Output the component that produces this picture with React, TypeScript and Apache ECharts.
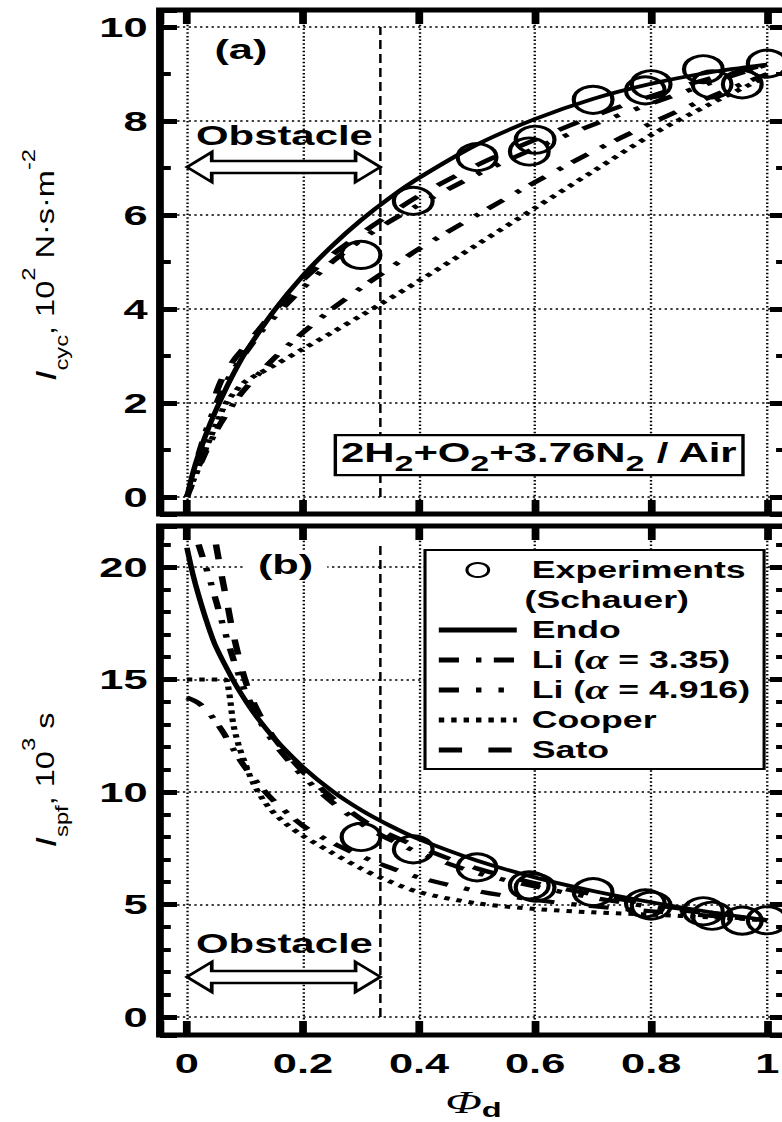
import React, { useEffect, useRef } from 'react';
import * as echarts from 'echarts';

// The figure is laid out narrow and widened horizontally (wide lettering, oval markers).
const STRETCH = 1.55;
const CHART_W = 782 / STRETCH;
const CHART_H = 1122;

const FONT = '"Liberation Sans", Arial, sans-serif';
const SERIF = '"Liberation Serif", "Times New Roman", serif';

// ---------------- data ----------------
// Experiments (Schauer)
const phiExp = [0.30, 0.39, 0.50, 0.59, 0.60, 0.70, 0.79, 0.80, 0.89, 0.905, 0.957, 1.0];
const icycExp = [5.15, 6.3, 7.23, 7.35, 7.6, 8.45, 8.65, 8.78, 9.1, 8.78, 8.78, 9.22];
const ispfExp = [8.0, 7.45, 6.65, 5.85, 5.75, 5.55, 5.05, 4.95, 4.7, 4.5, 4.28, 4.3];

// Endo
const phiEndoA = [0, 0.01, 0.02, 0.04, 0.06, 0.08, 0.1, 0.15, 0.2, 0.25, 0.3, 0.35, 0.4, 0.5, 0.6, 0.7, 0.8, 0.9, 1.0];
const icycEndo = [0, 0.5, 0.9, 1.56, 2.12, 2.62, 3.06, 3.96, 4.71, 5.34, 5.89, 6.37, 6.79, 7.5, 8.04, 8.47, 8.79, 9.03, 9.2];
const phiEndoB = [0, 0.01, 0.02, 0.035, 0.05, 0.08, 0.1, 0.12, 0.15, 0.2, 0.25, 0.3, 0.35, 0.4, 0.5, 0.6, 0.7, 0.8, 0.9, 1.0];
const ispfEndo = [20.85, 19.7, 18.75, 17.5, 16.45, 14.95, 14.1, 13.35, 12.4, 11.1, 10.05, 9.2, 8.5, 7.9, 6.95, 6.2, 5.6, 5.1, 4.67, 4.3];

// Li (alpha = 3.35)
const phiLi1A = [0, 0.02, 0.05, 0.08, 0.1, 0.15, 0.2, 0.25, 0.3, 0.333, 0.4, 0.5, 0.6, 0.7, 0.8, 0.9, 1.0];
const icycLi1 = [0, 0.62, 1.4, 1.98, 2.3, 2.95, 3.5, 4.0, 4.45, 4.73, 5.28, 6.0, 6.7, 7.35, 7.95, 8.5, 9.0];
const phiLi1B = [0, 0.02, 0.04, 0.06, 0.08, 0.1, 0.12, 0.15, 0.2, 0.25, 0.3, 0.333, 0.4, 0.5, 0.6, 0.7, 0.8, 0.9, 1.0];
const ispfLi1 = [14.2, 13.95, 13.45, 12.75, 11.9, 11.1, 10.45, 9.6, 8.5, 7.75, 7.15, 6.8, 6.2, 5.6, 5.2, 4.92, 4.7, 4.5, 4.3];

// Li (alpha = 4.916)
const phiLi2 = [0.02, 0.03, 0.04, 0.06, 0.08, 0.1, 0.13, 0.16, 0.2, 0.25, 0.3, 0.333, 0.4, 0.5, 0.6, 0.7, 0.8, 0.9, 1.0];
const icycLi2 = [0.9, 1.3, 1.65, 2.25, 2.7, 3.05, 3.55, 3.95, 4.45, 5.0, 5.47, 5.74, 6.22, 6.86, 7.42, 7.92, 8.37, 8.8, 9.2];
const ispfLi2 = [21.0, 20.2, 19.4, 17.6, 15.9, 14.5, 12.95, 11.85, 10.7, 9.55, 8.6, 8.1, 7.3, 6.4, 5.8, 5.3, 4.9, 4.6, 4.3];

// Cooper
const phiCooperA = [0, 0.03, 0.065, 0.08, 0.1, 0.15, 0.2, 0.25, 0.3, 0.333, 0.4, 0.5, 0.6, 0.7, 0.8, 0.9, 1.0];
const icycCooper = [0, 0.95, 1.95, 2.2, 2.45, 2.8, 3.15, 3.5, 3.86, 4.1, 4.6, 5.37, 6.15, 6.93, 7.7, 8.35, 8.95];
const phiCooperB = [0, 0.065, 0.07, 0.075, 0.08, 0.09, 0.1, 0.115, 0.14, 0.17, 0.2, 0.25, 0.3, 0.333, 0.4, 0.5, 0.6, 0.7, 0.8, 0.9, 1.0];
const ispfCooper = [15.0, 15.0, 14.8, 14.0, 13.0, 12.0, 11.3, 10.35, 9.35, 8.6, 8.05, 7.3, 6.6, 6.2, 5.55, 5.05, 4.8, 4.65, 4.55, 4.43, 4.3];

// Sato
const phiSatoA = [0.05, 0.06, 0.08, 0.1, 0.12, 0.15, 0.2, 0.25, 0.3, 0.333, 0.4, 0.5, 0.6, 0.7, 0.8, 0.9, 1.0];
const icycSato = [2.2, 2.5, 2.9, 3.2, 3.5, 3.95, 4.62, 5.15, 5.6, 5.88, 6.41, 7.06, 7.6, 8.1, 8.53, 8.9, 9.2];
const phiSatoB = [0.05, 0.06, 0.07, 0.08, 0.1, 0.12, 0.15, 0.2, 0.25, 0.3, 0.333, 0.4, 0.5, 0.6, 0.7, 0.8, 0.9, 1.0];
const ispfSato = [21.0, 19.6, 18.3, 17.0, 15.0, 13.7, 12.4, 10.9, 9.75, 8.8, 8.3, 7.55, 6.6, 5.95, 5.45, 5.0, 4.65, 4.3];

// Obstacle region boundary (fraction filled by the obstacle)
const obstacleEdge = 1 / 3;

// Legend entries
const NAME_EXP = 'Experiments';
const NAME_SCHAUER = '(Schauer)';
const NAME_ENDO = 'Endo';
const NAME_LI1 = 'Li (α = 3.35)';
const NAME_LI2 = 'Li (α = 4.916)';
const NAME_COOPER = 'Cooper';
const NAME_SATO = 'Sato';

// Axis ranges
const X_RANGE = [-0.0465, 1.034];
const YA_RANGE = [-0.36, 10.36];
const YB_RANGE = [-0.8, 21.82];

// ---------------- styling ----------------
const lineStyles: Record<string, any> = {
  [NAME_ENDO]: { type: 'solid', width: 3.6 },
  [NAME_LI1]: { type: [13, 11, 3.5, 8], width: 4.2 },
  [NAME_LI2]: { type: [13, 11, 3.5, 11, 3.5, 11], width: 4.2 },
  [NAME_COOPER]: { type: [3.5, 4.5], width: 4 },
  [NAME_SATO]: { type: [15, 17], width: 4.2 },
};

const pairs = (xs: number[], ys: number[]) => xs.map((x, i) => [x, ys[i]]);

function tickLabel(step: number, lo: number, hi: number) {
  return (v: number) => {
    const k = Math.round(v / step);
    const r = k * step;
    if (Math.abs(v - r) > step * 1e-4 || r < lo - 1e-9 || r > hi + 1e-9) return '';
    return String(parseFloat(r.toFixed(4)));
  };
}

const gridLine = { color: '#000', width: 1.5, type: [1.5, 2.2] };

function xAxis(gridIndex: number, position: 'top' | 'bottom', labels: boolean, extra: any = {}) {
  return {
    type: 'value',
    gridIndex,
    position,
    min: X_RANGE[0],
    max: X_RANGE[1],
    axisLine: { show: false, onZero: false },
    axisTick: { show: true, inside: true, length: 14, lineStyle: { color: '#000', width: 5 } },
    axisLabel: labels
      ? { show: true, formatter: tickLabel(0.2, 0, 1), color: '#000', fontFamily: FONT, fontWeight: 'bold', fontSize: 28, margin: 14 }
      : { show: false },
    splitLine: { show: position === 'bottom', lineStyle: gridLine },
    ...extra,
  };
}

function yAxis(gridIndex: number, position: 'left' | 'right', range: number[], step: number, minorSplit: number) {
  const labels = position === 'left';
  return {
    type: 'value',
    gridIndex,
    position,
    min: range[0],
    max: range[1],
    axisLine: { show: false, onZero: false },
    axisTick: { show: true, inside: true, length: 11, lineStyle: { color: '#000', width: 5 } },
    minorTick: { show: true, splitNumber: minorSplit, length: 7, lineStyle: { color: '#000', width: 4 } },
    axisLabel: labels
      ? { show: true, formatter: tickLabel(step, 0, 20), color: '#000', fontFamily: FONT, fontWeight: 'bold', fontSize: 28, margin: 8 }
      : { show: false },
    splitLine: { show: labels, lineStyle: gridLine },
  };
}

function curve(name: string, xs: number[], ys: number[], axis: number) {
  return {
    name,
    type: 'line',
    xAxisIndex: axis,
    yAxisIndex: axis,
    data: pairs(xs, ys),
    symbol: 'none',
    showSymbol: false,
    smooth: 0.3,
    lineStyle: { color: '#000', cap: 'butt', join: 'round', ...lineStyles[name] },
    itemStyle: { color: '#000' },
    z: 3,
  };
}

function experiments(ys: number[], axis: number) {
  return {
    name: NAME_EXP,
    type: 'scatter',
    xAxisIndex: axis,
    yAxisIndex: axis,
    data: pairs(phiExp, ys),
    symbol: 'circle',
    symbolSize: [25, 27],
    itemStyle: { color: 'rgba(0,0,0,0)', borderColor: '#000', borderWidth: 2.8, opacity: 1 },
    z: 4,
  };
}

function boundary(top: number, axis: number) {
  return {
    name: 'obstacle edge',
    type: 'line',
    xAxisIndex: axis,
    yAxisIndex: axis,
    data: [[obstacleEdge, 0], [obstacleEdge, top]],
    symbol: 'none',
    lineStyle: { color: '#000', width: 1.6, type: [9, 5] },
    z: 2,
  };
}

function buildOption() {
  const gridBase = { show: true, borderColor: '#000', borderWidth: 5, backgroundColor: 'transparent', left: 103.2, width: 404.5, containLabel: false, outerBoundsMode: 'none' };
  const noMarker = { opacity: 0 };
  return {
    animation: false,
    backgroundColor: '#fff',
    grid: [
      { ...gridBase, top: 10, height: 504 },
      { ...gridBase, top: 526, height: 509 },
    ],
    xAxis: [
      xAxis(0, 'bottom', false),
      xAxis(0, 'top', false),
      xAxis(1, 'bottom', true, {
        name: '{f|Φ}{d|d}',
        nameLocation: 'middle',
        nameGap: 52,
        nameMoveOverlap: false,
        nameTextStyle: {
          color: '#000',
          rich: {
            f: { fontFamily: SERIF, fontStyle: 'italic', fontSize: 31, lineHeight: 26, verticalAlign: 'top', color: '#000' },
            d: { fontFamily: FONT, fontWeight: 'bold', fontSize: 21, lineHeight: 33, verticalAlign: 'bottom', color: '#000' },
          },
        },
      }),
      xAxis(1, 'top', false),
    ],
    yAxis: [
      yAxis(0, 'left', YA_RANGE, 2, 2),
      yAxis(0, 'right', YA_RANGE, 2, 2),
      yAxis(1, 'left', YB_RANGE, 5, 5),
      yAxis(1, 'right', YB_RANGE, 5, 5),
    ],
    legend: {
      orient: 'vertical',
      left: 274.2,
      top: 550,
      padding: [5, 9, 4, 6.4],
      itemWidth: 50.3,
      itemHeight: 14,
      itemGap: 0,
      backgroundColor: '#fff',
      borderColor: '#000',
      borderWidth: 2,
      selectedMode: false,
      lineStyle: { width: 5 },
      data: [
        { name: NAME_EXP },
        { name: NAME_SCHAUER, itemStyle: noMarker },
        { name: NAME_ENDO, itemStyle: noMarker },
        { name: NAME_LI1, itemStyle: noMarker },
        { name: NAME_LI2, itemStyle: noMarker },
        { name: NAME_COOPER, itemStyle: noMarker },
        { name: NAME_SATO, itemStyle: noMarker },
      ],
      formatter: (name: string) => {
        if (name === NAME_SCHAUER) return `{q|${name}}`;
        const m = name.match(/^Li \(α = (.+)\)$/);
        if (m) return `{p|Li (}{a|α}{r| = ${m[1]})}`;
        return `{p|${name}}`;
      },
      textStyle: {
        color: '#000',
        fontFamily: FONT,
        fontWeight: 'bold',
        fontSize: 23,
        lineHeight: 30,
        rich: {
          p: { fontFamily: FONT, fontWeight: 'bold', fontSize: 23, lineHeight: 30, padding: [0, 0, 0, 4.7], color: '#000' },
          r: { fontFamily: FONT, fontWeight: 'bold', fontSize: 23, lineHeight: 30, color: '#000' },
          q: { fontFamily: FONT, fontWeight: 'bold', fontSize: 23, lineHeight: 30, color: '#000' },
          a: { fontFamily: SERIF, fontStyle: 'italic', fontWeight: 'bold', fontSize: 27, lineHeight: 30, color: '#000' },
        },
      },
      z: 20,
    },
    series: [
      // panel (a): cycle impulse per unit area
      boundary(10, 0),
      curve(NAME_COOPER, phiCooperA, icycCooper, 0),
      curve(NAME_LI1, phiLi1A, icycLi1, 0),
      curve(NAME_LI2, phiLi2, icycLi2, 0),
      curve(NAME_SATO, phiSatoA, icycSato, 0),
      curve(NAME_ENDO, phiEndoA, icycEndo, 0),
      experiments(icycExp, 0),
      // panel (b): specific impulse
      boundary(21, 2),
      curve(NAME_COOPER, phiCooperB, ispfCooper, 2),
      curve(NAME_LI1, phiLi1B, ispfLi1, 2),
      curve(NAME_LI2, phiLi2, ispfLi2, 2),
      curve(NAME_SATO, phiSatoB, ispfSato, 2),
      curve(NAME_ENDO, phiEndoB, ispfEndo, 2),
      experiments(ispfExp, 2),
      {
        name: NAME_SCHAUER,
        type: 'line',
        xAxisIndex: 2,
        yAxisIndex: 2,
        data: [],
        symbol: 'none',
        lineStyle: { color: '#fff', width: 0 },
        itemStyle: { color: '#fff' },
      },
    ],
  };
}

function buildGraphics(chart: any) {
  const px = (panel: number, x: number, y: number): number[] =>
    chart.convertToPixel({ xAxisIndex: panel * 2, yAxisIndex: panel * 2 }, [x, y]);

  const bold = (size: number) => ({ fontFamily: FONT, fontWeight: 'bold', fontSize: size, fill: '#000' });

  const arrow = (panel: number, y: number) => {
    const [x0, yc] = px(panel, 0, y);
    const [x1] = px(panel, obstacleEdge, y);
    const head = 16;
    const hh = 15;
    const sh = 6;
    return {
      type: 'polygon',
      z: 30,
      shape: {
        points: [
          [x0, yc], [x0 + head, yc - hh], [x0 + head, yc - sh], [x1 - head, yc - sh], [x1 - head, yc - hh],
          [x1, yc], [x1 - head, yc + hh], [x1 - head, yc + sh], [x0 + head, yc + sh], [x0 + head, yc + hh],
        ],
      },
      style: { fill: '#fff', stroke: '#000', lineWidth: 2.4, lineJoin: 'miter' },
    };
  };

  const label = (panel: number, x: number, y: number, text: string, size: number, extra: any = {}) => {
    const [cx, cy] = px(panel, x, y);
    return {
      type: 'text',
      x: cx,
      y: cy,
      z: 31,
      style: { text, align: 'center', verticalAlign: 'middle', ...bold(size), ...extra },
    };
  };

  // rotated axis titles with sub/superscripts
  const titleRich = {
    i: { fontFamily: FONT, fontStyle: 'italic', fontSize: 30, lineHeight: 52, fill: '#000' },
    n: { fontFamily: FONT, fontSize: 26, lineHeight: 52, fill: '#000' },
    sb: { fontFamily: FONT, fontSize: 19, lineHeight: 26, verticalAlign: 'bottom', fill: '#000' },
    sp: { fontFamily: FONT, fontSize: 19, lineHeight: 16, verticalAlign: 'top', fill: '#000' },
  };
  const title = (x: number, y: number, text: string) => ({
    type: 'text',
    x,
    y,
    rotation: Math.PI / 2,
    scaleX: 1.25,
    scaleY: 1 / STRETCH,
    z: 31,
    style: { text, rich: titleRich, align: 'center', verticalAlign: 'middle', fill: '#000' },
  });

  const [fx, fy] = px(0, 0.607, 0.894);
  const boxW = 263;
  const boxH = 40;

  return [
    title(29, 265, '{i|I}{sb|cyc}{n|, 10}{sp|2}{n| N·s·m}{sp|-2}'),
    title(29, 780, '{i|I}{sb|spf}{n|, 10}{sp|3}{n| s}'),
    label(0, 0.093, 9.53, '(a)', 28),
    label(1, 0.17, 20.1, '(b)', 28, { backgroundColor: '#fff', padding: [0, 9] }),
    label(0, 0.168, 7.7, 'Obstacle', 27),
    arrow(0, 7.02),
    label(1, 0.168, 3.29, 'Obstacle', 27),
    arrow(1, 1.78),
    {
      type: 'rect',
      z: 30,
      shape: { x: fx - boxW / 2, y: fy - boxH / 2, width: boxW, height: boxH },
      style: { fill: '#fff', stroke: '#000', lineWidth: 2.2 },
    },
    {
      type: 'text',
      x: fx,
      y: fy + 1.25,
      z: 31,
      style: {
        text: '{m|2H}{s|2}{m|+O}{s|2}{m|+3.76N}{s|2}{m| / Air}',
        align: 'center',
        verticalAlign: 'middle',
        fill: '#000',
        rich: {
          m: { ...bold(27), lineHeight: 30, verticalAlign: 'top' },
          s: { ...bold(22), lineHeight: 35.5, verticalAlign: 'bottom' },
        },
      },
    },
  ];
}

export default function App() {
  const ref = useRef<HTMLDivElement>(null);
  useEffect(() => {
    const el = ref.current;
    if (!el) return;
    const chart = echarts.init(el, undefined, { renderer: 'svg', width: CHART_W, height: CHART_H });
    chart.setOption(buildOption() as any);
    chart.setOption({ graphic: buildGraphics(chart) } as any);
    return () => chart.dispose();
  }, []);
  return (
    <div
      ref={ref}
      style={{
        position: 'absolute',
        left: 0,
        top: 0,
        width: CHART_W,
        height: CHART_H,
        transform: `scaleX(${STRETCH})`,
        transformOrigin: '0 0',
        background: '#fff',
      }}
    />
  );
}
